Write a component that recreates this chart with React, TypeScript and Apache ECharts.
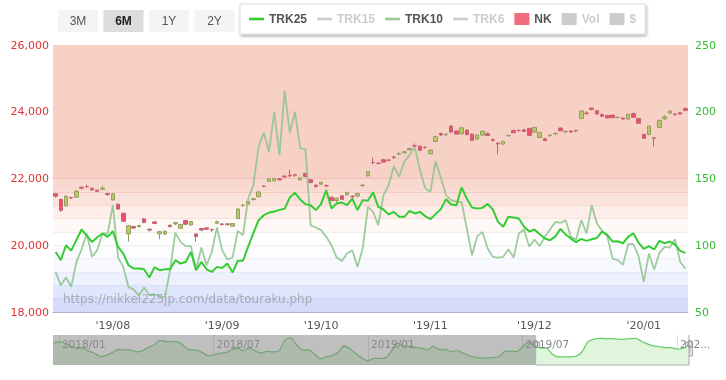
import React, { useEffect, useRef } from 'react';
import * as echarts from 'echarts';

// ---------- main chart categories (trading days) ----------
const dates = [
  '2019-07-17','2019-07-18','2019-07-19','2019-07-22','2019-07-23','2019-07-24','2019-07-25','2019-07-26','2019-07-29','2019-07-30','2019-07-31',
  '2019-08-01','2019-08-02','2019-08-05','2019-08-06','2019-08-07','2019-08-08','2019-08-09','2019-08-13','2019-08-14','2019-08-15','2019-08-16','2019-08-19','2019-08-20','2019-08-21','2019-08-22','2019-08-23','2019-08-26','2019-08-27','2019-08-28','2019-08-29','2019-08-30',
  '2019-09-02','2019-09-03','2019-09-04','2019-09-05','2019-09-06','2019-09-09','2019-09-10','2019-09-11','2019-09-12','2019-09-13','2019-09-17','2019-09-18','2019-09-19','2019-09-20','2019-09-24','2019-09-25','2019-09-26','2019-09-27','2019-09-30',
  '2019-10-01','2019-10-02','2019-10-03','2019-10-04','2019-10-07','2019-10-08','2019-10-09','2019-10-10','2019-10-11','2019-10-15','2019-10-16','2019-10-17','2019-10-18','2019-10-21','2019-10-23','2019-10-24','2019-10-25','2019-10-28','2019-10-29','2019-10-30','2019-10-31',
  '2019-11-01','2019-11-05','2019-11-06','2019-11-07','2019-11-08','2019-11-11','2019-11-12','2019-11-13','2019-11-14','2019-11-15','2019-11-18','2019-11-19','2019-11-20','2019-11-21','2019-11-22','2019-11-25','2019-11-26','2019-11-27','2019-11-28','2019-11-29',
  '2019-12-02','2019-12-03','2019-12-04','2019-12-05','2019-12-06','2019-12-09','2019-12-10','2019-12-11','2019-12-12','2019-12-13','2019-12-16','2019-12-17','2019-12-18','2019-12-19','2019-12-20','2019-12-23','2019-12-24','2019-12-25','2019-12-26','2019-12-27','2019-12-30',
  '2020-01-06','2020-01-07','2020-01-08','2020-01-09','2020-01-10','2020-01-14','2020-01-15','2020-01-16','2020-01-17',
];

// ---------- Nikkei 225 candles ----------
const nkOpen = [21540,21370,21180,21430,21440,21740,21760,21710,21650,21680,21550,21360,21230,20960,20340,20560,20560,20790,20480,20700,20340,20340,20600,20640,20510,20740,20610,20340,20500,20520,20470,20660,20640,20640,20570,20800,21190,21230,21370,21450,21770,21910,21930,21990,22070,22100,22110,21960,22150,21960,21800,21830,21790,21440,21340,21480,21510,21470,21480,21790,22080,22480,22460,22560,22550,22640,22730,22770,22860,22980,22970,22930,22740,23110,23350,23310,23570,23420,23340,23450,23330,23180,23300,23340,23170,23060,23030,23280,23440,23440,23460,23500,23390,23230,23190,23290,23340,23510,23400,23420,23440,23800,23960,24110,24030,23920,23890,23900,23830,23810,23780,23950,23800,23320,23320,23217,23530,23790,23960,23930,23970,24100];
const nkClose = [21469,21046,21467,21416,21620,21709,21756,21658,21616,21709,21521,21540,21087,20720,20585,20516,20593,20684,20455,20655,20405,20418,20563,20677,20618,20628,20710,20261,20456,20479,20460,20704,20620,20625,20649,21085,21199,21318,21392,21597,21759,21988,22001,21960,22044,22079,22098,22020,22060,21878,21755,21885,21778,21341,21410,21375,21587,21456,21551,21798,22207,22472,22451,22492,22548,22625,22750,22799,22900,22974,22843,22927,22850,23251,23303,23330,23391,23331,23520,23319,23141,23303,23416,23292,23148,23038,23112,23292,23373,23437,23409,23293,23529,23379,23135,23300,23354,23430,23410,23391,23424,24023,23952,24066,23934,23864,23816,23821,23830,23782,23924,23837,23656,23204,23575,23204,23739,23850,24025,23916,23933,24041];
const nkLow = [21430,21000,21160,21380,21420,21680,21720,21640,21590,21660,21480,21340,21070,20700,20110,20480,20540,20660,20410,20630,20180,20300,20530,20600,20490,20610,20590,20110,20420,20460,20400,20630,20590,20580,20560,20790,21150,21200,21340,21440,21740,21900,21920,21940,22030,22050,22050,21940,22030,21860,21740,21810,21740,21320,21270,21360,21490,21420,21430,21740,22060,22430,22420,22470,22520,22590,22700,22750,22840,22940,22830,22900,22720,23090,23280,23270,23370,23320,23320,23290,23130,23160,23290,23280,23100,22730,23010,23250,23360,23400,23390,23280,23370,23200,23120,23250,23300,23420,23370,23370,23390,23780,23900,24040,23920,23840,23800,23810,23800,23770,23770,23820,23640,23180,23300,22951,23520,23760,23940,23880,23920,24030];
const nkHigh = [21560,21400,21500,21460,21650,21750,21820,21720,21660,21790,21560,21560,21250,20970,20610,20580,20610,20820,20500,20730,20430,20440,20620,20700,20640,20760,20730,20350,20520,20540,20500,20740,20660,20660,20660,21100,21240,21330,21420,21610,21800,22020,22020,22010,22100,22260,22130,22040,22170,21980,21820,21900,21820,21460,21420,21500,21600,21500,21570,21830,22220,22620,22490,22590,22580,22690,22780,22830,22920,23050,22990,22970,22870,23280,23370,23340,23590,23440,23540,23470,23350,23320,23430,23380,23200,23080,23130,23310,23460,23480,23480,23520,23540,23390,23200,23330,23380,23530,23440,23440,23460,24040,24010,24120,24050,23940,23900,23910,23860,23830,23940,23970,23810,23340,23580,23250,23770,23900,24040,23950,23990,24120];

// ---------- ratios (right axis) ----------
const trk25 = [95,88.8,100,96,104,111.8,107,102.5,106,108.8,106.3,110.5,98.8,93.8,85,82.5,82.5,82,75.8,83.5,81.3,82,82,88.8,86.3,87.5,95,81.3,87.5,82,80,83.8,83,86.3,79.5,88.3,88.3,99,109,118.8,122.5,124.5,125.3,126.5,127.3,135.8,139.3,134.3,130.8,130,126.3,130.8,141.3,127.6,131.3,132,130,135,126.3,133.8,133.3,139.6,128.8,126.8,123.1,125,121.3,121.3,125.8,123.8,125,121.8,119.5,123.3,127,134.5,130.5,130,143.3,135,128.3,127.6,128,131,126.8,117.5,113.8,121.3,120.8,120,113.8,110.3,111.8,108.3,105,103.8,106.5,112.3,108,105,102.3,104.8,103.3,104.5,105.5,110.3,107.8,102.8,103,101.5,106.3,109,102,97.3,99.3,96.8,103.3,101.5,102.8,100.5,95.8,94.3];
const trk10 = [80,70,75.8,68.8,87.5,97,108.8,91.3,96.3,108.8,108.8,130,90.8,83.8,68.8,66.8,62.3,68.3,62.5,63.3,61.8,61.3,81.3,109.5,102.5,99.3,99.3,81.8,98.3,85,95,113.3,96.3,89.3,90.8,110.8,107.5,135,145,173.8,184.3,170,200,167.5,215.7,184.3,200,172.5,172,115,113.3,111.3,106.3,100,90.8,88.3,93.8,96.3,83.8,97.5,128.8,125,115,137.5,145,159.3,151.3,162.5,167.5,173.3,156.3,142.8,139.8,163,151,137.5,133.8,132.7,132.3,112.8,92.5,106.8,110,97.8,91.3,90.8,91.3,97,90.8,108.8,111.8,98.8,104.3,99.3,106.3,111.8,117.5,116.8,118.8,106.3,104.3,118.8,108.8,130,116.3,110.8,106.8,90,88.8,85.3,100.8,100.8,91.8,72.5,93.8,81.8,94.3,98.8,98.3,104.5,87.5,82.5];

// ---------- ratio zones (right axis) ----------
const zoneEdges = [50, 60, 70, 80, 90, 100, 110, 120, 130, 140, 150, 250];
const zoneColors = ['#d4dcf9','#e0e6fb','#eef1fd','#f8f9fe','#fdfdff','#ffffff','#fef8f6','#fdeee9','#fbe2db','#f9d8cf','#f7d0c6'];
const zoneLineColors = ['#c9d2f3','#d9dff6','#e6e9f8','#eeeff8','#eeeeee','#f3ecea','#f8e0da','#f6d6cd','#f3cbc1','#efc0b4'];

// ---------- overview slider (weekly, from 2017-12-25) ----------
const sliderTrend = [115.2,118.8,115.2,107.9,103.1,103.8,96.1,91.2,83.2,86.9,92.9,100.2,99.4,99.4,94.8,97,105,111.1,121.9,119.3,119,118.3,108.6,99,98.5,94.1,85.6,86.9,90.7,92.9,98.5,103.8,97,105,96.5,91.7,95.6,94.6,96.5,122,128,111.1,99.4,99,89.3,77.7,82.5,85.9,93.6,108.6,101.4,89.3,79.4,73.1,78.9,78.9,80.8,97.8,115.9,107.9,107.9,105,103.3,99.4,108.2,99.9,100.2,95.3,97.5,91.7,85.6,81.3,79.4,79.6,80.8,82.7,95.1,96.5,95.1,107.2,117.4,107.9,104,103.3,88.8,82.7,82.7,82.7,84.4,94.8,119,124.9,126.8,126.3,126.3,125.1,124.4,126.5,127,120,113.5,108.9,106.9,104.8,104.5,100.9,103.3,111.1];
const sliderFirstWeek = '2017-12-25';
const sliderTickIdx = [1, 27, 53, 79, 105];
const sliderTickLabels = ['2018/01', '2018/07', '2019/01', '2019/07', '2020/01'];

const legendNames = ['TRK25', 'TRK15', 'TRK10', 'TRK6', 'NK', 'Vol', '$'];
const rangeButtons = ['3M', '6M', '1Y', '2Y'];
const activeRange = '6M';
const watermark = 'https://nikkei225jp.com/data/touraku.php';

const DAY = 86400000;
const sliderWeeks = sliderTrend.map((_, k) => {
  const d = new Date(Date.parse(sliderFirstWeek + 'T00:00:00Z') + k * 7 * DAY);
  return d.toISOString().slice(0, 10);
});

const LINE_ICON = 'path://M0,0L15,0L15,2.6L0,2.6Z';

export default function App() {
  const ref = useRef<HTMLDivElement>(null);
  useEffect(() => {
    const chart = echarts.init(ref.current!, null, { renderer: 'svg' });
    const axisFont = 'DejaVu Sans';
    const uiFont = 'Liberation Sans, Arial, sans-serif';
    const isMonthStart = (i: number) => i > 0 && dates[i].slice(0, 7) !== dates[i - 1].slice(0, 7);
    const candleData = dates.map((_, i) => [nkOpen[i], nkClose[i], nkLow[i], nkHigh[i]]);

    const areas = zoneColors.map((c, i) => [
      { yAxis: zoneEdges[i], itemStyle: { color: c } },
      { yAxis: zoneEdges[i + 1] },
    ]);
    const lines = zoneLineColors.map((c, i) => ({ yAxis: zoneEdges[i + 1], lineStyle: { color: c, width: 1, type: 'solid' } }));

    const buttonGraphics: any[] = [];
    rangeButtons.forEach((b, i) => {
      const x = 58 + i * 45.5;
      const active = b === activeRange;
      buttonGraphics.push({
        type: 'rect', shape: { x, y: 10, width: 40, height: 22 },
        style: { fill: active ? '#dcdcdc' : '#f4f4f4' }, silent: true,
      });
      buttonGraphics.push({
        type: 'text', x: x + 20, y: 21,
        style: { text: b, align: 'center', verticalAlign: 'middle', fill: active ? '#222' : '#555',
          font: (active ? 'bold ' : '') + '12px ' + uiFont },
        silent: true,
      });
    });

    const option: any = {
      animation: false,
      textStyle: { fontFamily: axisFont },
      legend: {
        left: 240, top: 4, padding: [9, 9, 9, 9],
        itemWidth: 15, itemHeight: 12, itemGap: 10,
        backgroundColor: '#fff', borderColor: '#dddddd', borderWidth: 1,
        shadowBlur: 3, shadowColor: 'rgba(0,0,0,0.3)', shadowOffsetX: 1, shadowOffsetY: 2,
        inactiveColor: '#cccccc', inactiveBorderWidth: 0,
        textStyle: { color: '#555', fontWeight: 'bold', fontSize: 12, fontFamily: uiFont },
        data: legendNames.map((n) =>
          n === 'NK' ? { name: n, icon: 'rect', itemStyle: { color: '#f26b7f', borderWidth: 0 } }
            : n === 'Vol' || n === '$' ? { name: n, icon: 'rect', itemStyle: { borderWidth: 0 } }
            : { name: n, icon: LINE_ICON, itemStyle: { borderWidth: 0 } }),
        selected: { TRK15: false, TRK6: false, Vol: false, $: false },
      },
      grid: [
        { left: 53, top: 45, width: 635, height: 267 },
        { left: 53, top: 335, width: 636, height: 30 },
      ],
      xAxis: [
        {
          type: 'category', gridIndex: 0, data: dates, boundaryGap: true,
          axisLine: { lineStyle: { color: '#a9b3cf' } },
          axisTick: { interval: (i: number) => isMonthStart(i), length: 4, lineStyle: { color: '#a9b3cf' } },
          axisLabel: {
            interval: (i: number) => isMonthStart(i), color: '#555', fontSize: 11, margin: 8,
            formatter: (v: string) => "'" + v.slice(2, 4) + '/' + v.slice(5, 7),
          },
          splitLine: { show: false },
        },
        {
          type: 'category', gridIndex: 1, data: sliderWeeks, boundaryGap: false,
          axisLine: { show: false }, axisTick: { show: false }, axisLabel: { show: false },
          splitLine: { show: true, interval: (i: number) => sliderTickIdx.includes(i), lineStyle: { color: '#dddddd' } },
        },
        {
          type: 'category', gridIndex: 1, data: sliderWeeks, boundaryGap: false, z: 30,
          axisLine: { show: false }, axisTick: { show: false }, splitLine: { show: false },
          axisLabel: {
            inside: true, interval: (i: number) => sliderTickIdx.includes(i), align: 'left',
            color: '#888', fontSize: 10.5, margin: 3, padding: [0, 0, 0, 3],
            formatter: (_v: string, i: number) => {
              const j = sliderTickIdx.indexOf(i);
              const t = sliderTickLabels[j] || '';
              return j === sliderTickIdx.length - 1 ? t.slice(0, 3) + '...' : t;
            },
          },
        },
      ],
      yAxis: [
        {
          type: 'value', gridIndex: 0, min: 18000, max: 26000, interval: 2000,
          axisLabel: { color: '#dc3232', fontSize: 11, margin: 4, formatter: (v: number) => v.toLocaleString('en-US') },
          splitLine: { show: false }, axisLine: { show: false }, axisTick: { show: false },
        },
        {
          type: 'value', gridIndex: 0, position: 'right', min: 50, max: 250, interval: 50,
          axisLabel: { color: '#33bb33', fontSize: 11, margin: 7 },
          splitLine: { show: false }, axisLine: { show: false }, axisTick: { show: false },
        },
        { type: 'value', gridIndex: 1, min: 63, max: 135, show: false },
      ],
      series: [
        {
          name: 'TRK25', type: 'line', xAxisIndex: 0, yAxisIndex: 1, data: trk25, z: 5,
          symbol: 'none', color: '#33cc33', lineStyle: { color: '#33cc33', width: 2 },
          markArea: { silent: true, z: 1, data: areas },
          markLine: { silent: true, z: 2, symbol: ['none', 'none'], label: { show: false }, data: lines },
        },
        { name: 'TRK15', type: 'line', xAxisIndex: 0, yAxisIndex: 1, data: [], symbol: 'none', color: '#aaaaaa', lineStyle: { width: 2 } },
        {
          name: 'TRK10', type: 'line', xAxisIndex: 0, yAxisIndex: 1, data: trk10, z: 4,
          symbol: 'none', color: '#97cc97', lineStyle: { color: '#8cc48c', width: 1.8, opacity: 0.85 },
        },
        { name: 'TRK6', type: 'line', xAxisIndex: 0, yAxisIndex: 1, data: [], symbol: 'none', color: '#aaaaaa', lineStyle: { width: 2 } },
        {
          name: 'NK', type: 'candlestick', xAxisIndex: 0, yAxisIndex: 0, data: candleData, z: 3,
          barWidth: 4,
          itemStyle: { color: '#b6c96b', color0: '#f0506c', borderColor: '#959c5e', borderColor0: '#c2646f', borderWidth: 1 },
        },
        { name: 'Vol', type: 'bar', xAxisIndex: 0, yAxisIndex: 0, data: [], color: '#aaaaaa' },
        { name: '$', type: 'bar', xAxisIndex: 0, yAxisIndex: 0, data: [], color: '#aaaaaa' },
        {
          name: 'overview', type: 'line', xAxisIndex: 1, yAxisIndex: 2, data: sliderTrend, silent: true,
          symbol: 'none', smooth: 0.3, lineStyle: { color: '#6acc6a', width: 1.3 },
          areaStyle: { color: '#dff5dc', opacity: 1 },
        },
      ],
      graphic: [
        ...buttonGraphics,
        {
          type: 'text', left: 63, top: 293, silent: true, z: 10,
          style: { text: watermark, fill: 'rgba(120,120,120,0.5)', font: '12px DejaVu Sans' },
        },
      ],
    };
    chart.setOption(option);

    // overview window from the library's own scales
    const px = (k: number) => chart.convertToPixel({ xAxisIndex: 1 }, sliderWeeks[k]) as number;
    const first = Date.parse(dates[0] + 'T00:00:00Z');
    const wk0 = Date.parse(sliderFirstWeek + 'T00:00:00Z');
    const kf = (first - wk0) / (7 * DAY);
    const k = Math.floor(kf);
    const x0 = px(k) + (px(k + 1) - px(k)) * (kf - k);
    const last = Date.parse(dates[dates.length - 1] + 'T00:00:00Z');
    const kl = Math.min((last - wk0) / (7 * DAY), sliderWeeks.length - 1);
    const kli = Math.floor(kl);
    const x1 = kli >= sliderWeeks.length - 1 ? px(kli) : px(kli) + (px(kli + 1) - px(kli)) * (kl - kli);
    const xL = px(0);
    const yT = chart.convertToPixel({ yAxisIndex: 2 }, 135) as number;
    const yB = chart.convertToPixel({ yAxisIndex: 2 }, 63) as number;
    const handle = (x: number) => ({
      type: 'group', z: 25, silent: true,
      children: [
        { type: 'rect', shape: { x: x - 3.5, y: yT + 7, width: 7, height: 14 }, style: { fill: '#ececec', stroke: '#a8a8a8', lineWidth: 1 } },
        { type: 'line', shape: { x1: x - 1, y1: yT + 10, x2: x - 1, y2: yT + 18 }, style: { stroke: '#a8a8a8', lineWidth: 1 } },
        { type: 'line', shape: { x1: x + 1, y1: yT + 10, x2: x + 1, y2: yT + 18 }, style: { stroke: '#a8a8a8', lineWidth: 1 } },
      ],
    });
    chart.setOption({
      graphic: [
        ...option.graphic,
        { type: 'rect', z: 20, silent: true, shape: { x: xL, y: yT, width: x0 - xL, height: yB - yT }, style: { fill: 'rgba(128,128,128,0.5)' } },
        { type: 'polyline', z: 21, silent: true, shape: { points: [[x0, yB], [x1, yB], [x1, yT]] }, style: { stroke: '#aaaaaa', lineWidth: 1, fill: null } },
        handle(x0),
        handle(x1),
      ],
    });
    return () => chart.dispose();
  }, []);
  return <div ref={ref} style={{ position: 'fixed', left: 0, top: 0, width: 726, height: 380 }} />;
}
